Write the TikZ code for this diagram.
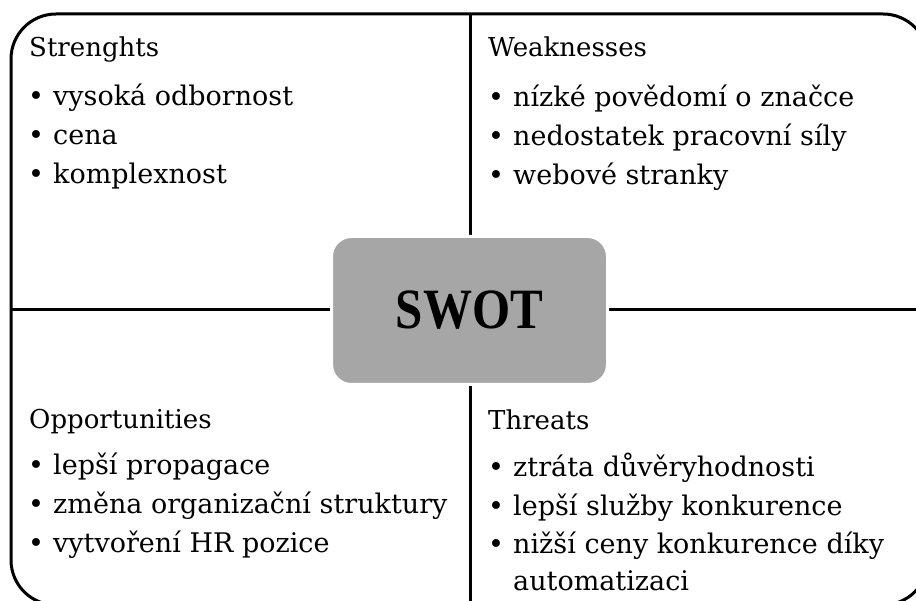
\documentclass[tikz,border=0pt]{standalone}
\usepackage{fontspec}
\setmainfont{DejaVu Serif}
\newfontfamily\swotfont[FakeStretch=0.86]{Liberation Serif}
\definecolor{swotgray}{HTML}{A6A6A6}
\tikzset{
  frameline/.style={line width=3pt, black},
  ttl/.style={anchor=base west, inner sep=0pt, font=\fontsize{26}{30}\selectfont},
  bul/.style={anchor=base west, inner sep=0pt, font=\fontsize{27}{32}\selectfont},
  itm/.style={anchor=base west, inner sep=0pt, font=\fontsize{27}{32}\selectfont},
  centerbox/.style={fill=swotgray, draw=white, line width=3pt, rounded corners=20pt,
    minimum width=276pt, minimum height=148pt, inner sep=0pt,
    font=\swotfont\bfseries\fontsize{57}{60}\selectfont}
}
\newcommand\bitem[4]{\node[bul] (#1b) at (#2,#3) {•}; \node[itm] (#1) at (#2+25,#3) {#4};}
\begin{document}
\begin{tikzpicture}[x=1pt,y=-1pt]
\useasboundingbox (0,0) rectangle (916,601);
\clip (0,0) rectangle (916,601);
\fill[white] (0,0) rectangle (916,601);
% frame and dividers
\draw[frameline, rounded corners=45pt] (11,14) rectangle (928,605);
\coordinate (vtop) at (470,14);
\coordinate (vbot) at (470,605);
\coordinate (hl) at (11,310);
\coordinate (hr) at (928,310);
\draw[frameline] (vtop) -- (vbot);
\draw[frameline] (hl) -- (hr);
% centre
\node[centerbox] (swot) at (469.5,310.5) {SWOT};
% Strengths
\node[ttl] (st) at (29,57) {Strenghts};
\bitem{s1}{28}{106}{vysoká odbornost}
\bitem{s2}{28}{145}{cena}
\bitem{s3}{28}{184}{komplexnost}
% Weaknesses
\node[ttl] (wt) at (488,57) {Weaknesses};
\bitem{w1}{488}{107}{nízké povědomí o značce}
\bitem{w2}{488}{146}{nedostatek pracovní síly}
\bitem{w3}{488}{185}{webové stranky}
% Opportunities
\node[ttl] (ot) at (29,429) {Opportunities};
\bitem{o1}{28}{475}{lepší propagace}
\bitem{o2}{28}{513}{změna organizační struktury}
\bitem{o3}{28}{552}{vytvoření HR pozice}
% Threats
\node[ttl] (tt) at (488,430) {Threats};
\bitem{t1}{488}{476}{ztráta důvěryhodnosti}
\bitem{t2}{488}{515}{lepší služby konkurence}
\bitem{t3}{488}{553}{nižší ceny konkurence díky}
\node[itm] (t3b2) at (513,590) {automatizaci};
\end{tikzpicture}
\end{document}
